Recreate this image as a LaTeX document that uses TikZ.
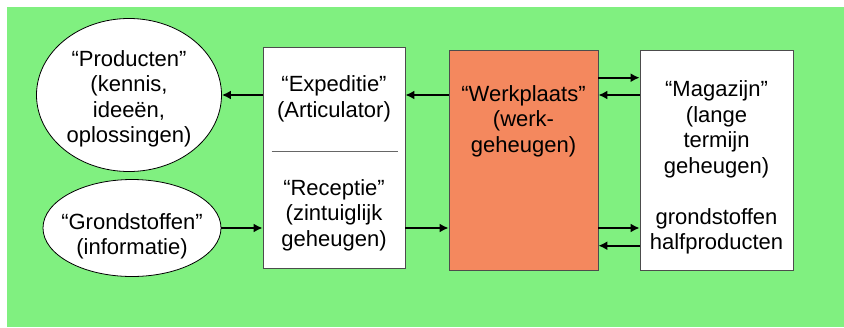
\documentclass[tikz,border=0pt]{standalone}
\usepackage{fontspec}
\setmainfont{Liberation Sans}
\usepackage{xcolor}
\usepackage{tikz}
\usetikzlibrary{positioning, arrows.meta, shapes.geometric}
\definecolor{bggreen}{RGB}{128,240,128}
\definecolor{salmon}{RGB}{244,136,94}

\begin{document}
\begin{tikzpicture}[
  x=1pt, y=-1pt,
  every node/.style={
    align=center,
    font=\fontsize{22pt}{25.5pt}\selectfont,
    inner sep=0pt
  },
  blob/.style={draw=black, ellipse, fill=white, line width=0.8pt},
  store/.style={draw=black!70, rectangle, fill=white, line width=0.8pt},
  txt/.style={text=black},
  arr/.style={line width=2pt, -{Latex[length=9pt,width=9pt]}}
]

% Background
\useasboundingbox (0,0) rectangle (844,327);
\fill[bggreen] (7,7) rectangle (844,327);

% Ellipses
\node[blob, minimum width=185pt, minimum height=153pt] (prod) at (129,95) {};
\node[blob, minimum width=178pt, minimum height=97pt] (grond) at (132,228) {};

% Boxes
\node[store, minimum width=142pt, minimum height=221pt] (exped) at (334,157.5) {};
\node[store, fill=salmon, minimum width=149pt, minimum height=220pt] (werk) at (523.5,160) {};
\node[store, minimum width=153pt, minimum height=220pt] (mag) at (716.5,160) {};

% Texts
\node[txt, yshift=-4pt] (prodtxt) at (prod) {“Producten”\\(kennis,\\ideeën,\\oplossingen)};
\node[txt, yshift=-8.5pt] (grondtxt) at (grond) {“Grondstoffen”\\(informatie)};
\node[txt, yshift=58.5pt] (expedtxt) at (exped) {“Expeditie”\\(Articulator)};
\node[txt, yshift=-57.5pt] (recepttxt) at (exped) {“Receptie”\\(zintuiglijk\\geheugen)};
\node[txt, yshift=39pt] (werktxt) at (werk) {“Werkplaats”\\(werk-\\geheugen)};
\node[txt, yshift=-7.8pt] (magtxt) at (mag) {“Magazijn”\\(lange\\termijn\\geheugen)\\[25.5pt]grondstoffen\\halfproducten};

% Divider
\draw[black!60, line width=0.8pt] ([xshift=9pt, yshift=6.5pt]exped.west) -- ([xshift=-7pt, yshift=6.5pt]exped.east);

% Arrows
\draw[arr] (exped.west |- prod.east) -- (prod.east);
\draw[arr] (werk.west |- prod.east) -- (exped.east |- prod.east);
\draw[arr] (grond.east) -- (exped.west |- grond.east);
\draw[arr] (exped.east |- grond.east) -- (werk.west |- grond.east);
\draw[arr] ([yshift=82.3pt]werk.east) -- ([yshift=82.3pt]mag.west);
\draw[arr] ([yshift=65pt]mag.west) -- ([yshift=65pt]werk.east);
\draw[arr] ([yshift=-68pt]werk.east) -- ([yshift=-68pt]mag.west);
\draw[arr] ([yshift=-85.7pt]mag.west) -- ([yshift=-85.7pt]werk.east);

\end{tikzpicture}
\end{document}
